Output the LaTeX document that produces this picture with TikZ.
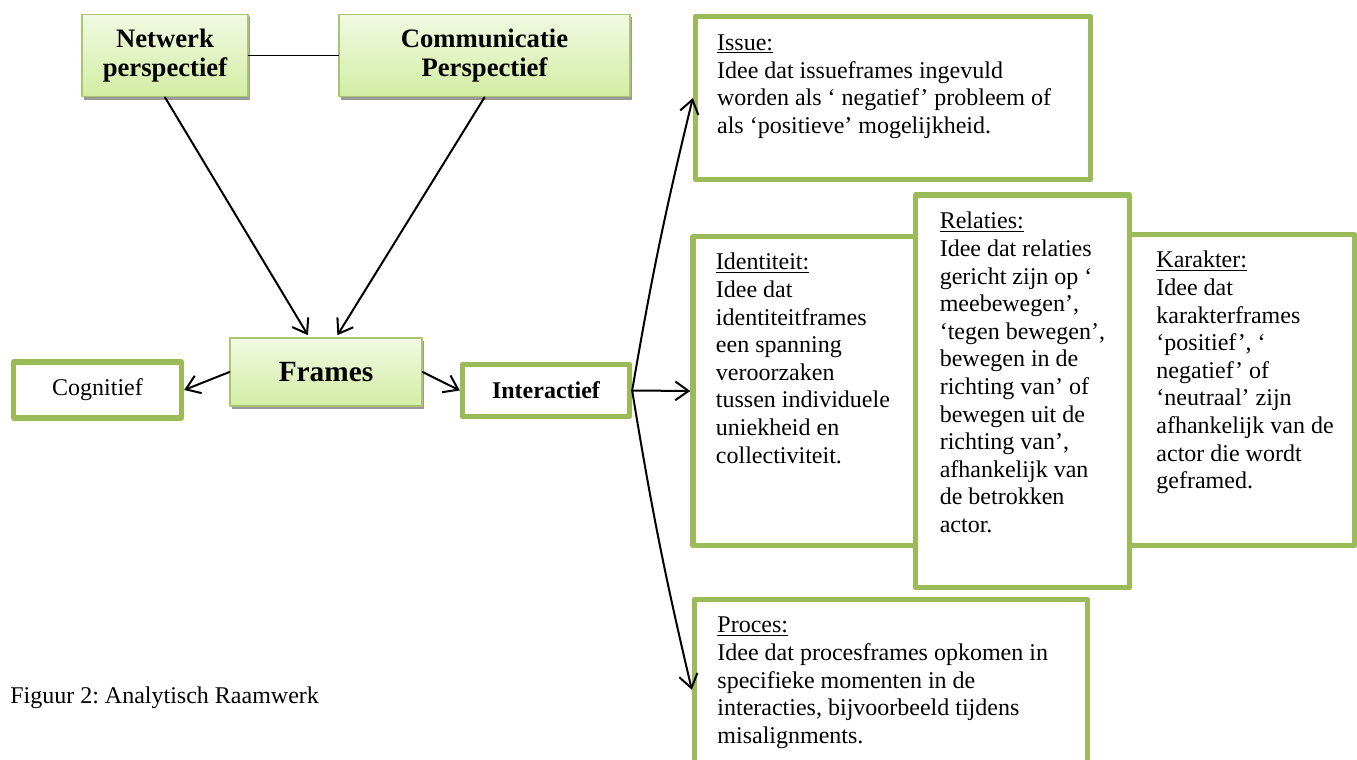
\documentclass[tikz,border=0pt]{standalone}
\usepackage{fontspec}
\setmainfont{Liberation Serif}
\usetikzlibrary{arrows.meta,shadows}
\definecolor{frgreen}{HTML}{9BBB59}
\definecolor{frtop}{HTML}{F1F9E3}
\definecolor{frbot}{HTML}{D3EDA3}
\frenchspacing
\newcommand{\frtext}[1]{\parbox[t]{300pt}{\raggedright #1}}
\tikzset{
  persp/.style={draw=frgreen!85,line width=0.8pt,top color=frtop,bottom color=frbot,
    drop shadow={shadow xshift=1.5pt,shadow yshift=-2pt,fill=black!40,opacity=1},
    align=center,font=\fontsize{20}{21.5}\selectfont\bfseries},
  kader/.style={draw=frgreen,line width=4pt,fill=white},
  kadertxt/.style={anchor=base west,inner sep=0pt,font=\fontsize{18}{20.7}\selectfont},
}
\begin{document}
\begin{tikzpicture}[x=0.75pt,y=-0.75pt,>={Straight Barb[length=10pt,width=14pt]},line cap=round,line join=round]
\useasboundingbox (0,0) rectangle (1357,760);
% bovenste rij
\node[persp,minimum width=124.5pt,minimum height=62pt] (netwerk) at (165,55.5) {Netwerk\\perspectief};
\node[persp,minimum width=218.25pt,minimum height=62pt] (comm) at (484.5,55.5) {Communicatie\\Perspectief};
\node[persp,minimum width=144pt,minimum height=51pt,font=\fontsize{22}{24}\selectfont\bfseries] (frames) at (326,372) {Frames};
\node[kader,minimum width=126pt,minimum height=42pt,font=\fontsize{18}{20}\selectfont] (cog) at (97.5,390) {Cognitief};
\node[kader,minimum width=125.25pt,minimum height=39pt,font=\fontsize{18}{20}\selectfont\bfseries] (inter) at (546,390.5) {Interactief};
% kaders rechts
\node[kader,minimum width=296.25pt,minimum height=122.25pt] (issue) at (893,98) {};
\node[kader,minimum width=168pt,minimum height=231.75pt] (ident) at (805,391) {};
\node[kader,minimum width=168.75pt,minimum height=233.25pt] (karak) at (1242,390) {};
\node[kader,minimum width=160.5pt,minimum height=294.4pt] (relat) at (1022.5,391.25) {};
\node[kader,minimum width=294.75pt,minimum height=135.4pt] (proces) at (891,689.75) {};
\node[kadertxt] (issuetxt) at ([xshift=18pt,yshift=-27.5pt]issue.north west) {\frtext{\underline{Issue:}\\
Idee dat issueframes ingevuld\\worden als ‘ negatief’ probleem of\\als ‘positieve’ mogelijkheid.}};
\node[kadertxt] (identtxt) at ([xshift=19pt,yshift=-27pt]ident.north west) {\frtext{\underline{Identiteit:}\\
Idee dat\\identiteitframes\\een spanning\\veroorzaken\\tussen individuele\\uniekheid en\\collectiviteit.}};
\node[kadertxt] (relattxt) at ([xshift=20pt,yshift=-27.5pt]relat.north west) {\frtext{\underline{Relaties:}\\
Idee dat relaties\\gericht zijn op ‘\\meebewegen’,\\‘tegen bewegen’,\\bewegen in de\\richting van’ of\\bewegen uit de\\richting van’,\\afhankelijk van\\de betrokken\\actor.}};
\node[kadertxt] (karaktxt) at ([xshift=22pt,yshift=-27pt]karak.north west) {\frtext{\underline{Karakter:}\\
Idee dat\\karakterframes\\‘positief’, ‘\\negatief’ of\\‘neutraal’ zijn\\afhankelijk van de\\actor die wordt\\geframed.}};
\node[kadertxt] (procestxt) at ([xshift=19pt,yshift=-27pt]proces.north west) {\frtext{\underline{Proces:}\\
Idee dat procesframes opkomen in\\specifieke momenten in de\\interacties, bijvoorbeeld tijdens\\misalignments.}};
\node[kadertxt] (fig) at (10,703) {Figuur 2: Analytisch Raamwerk};
% verbindingen
\draw[line width=1pt] (netwerk) -- (comm);
\draw[->,line width=1.5pt,shorten >=2pt] (netwerk.south) -- ([xshift=-12.5pt]frames.north);
\draw[->,line width=1.5pt,shorten >=2pt] (comm.south) -- ([xshift=7.5pt]frames.north);
\draw[->,line width=1.5pt] (frames.west) -- (cog.east);
\draw[->,line width=1.5pt] (frames.east) -- (inter.west);
\draw[->,line width=1.5pt] (inter.east) -- (ident.west);
\draw[->,line width=1.5pt] (inter.east) to[bend left=2] (issue.west);
\draw[->,line width=1.5pt] (inter.east) to[bend right=2] (proces.west);
\end{tikzpicture}
\end{document}
